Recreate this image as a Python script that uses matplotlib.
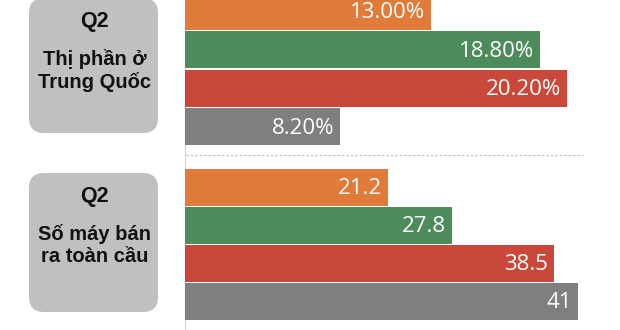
import matplotlib.pyplot as plt
from matplotlib.patches import FancyBboxPatch
from matplotlib.lines import Line2D

# Data: Q2 market share in China (%) and global shipments (million units)
share_values = [13.0, 18.8, 20.2, 8.2]
share_labels = ['13.00%', '18.80%', '20.20%', '8.20%']
ship_values = [21.2, 27.8, 38.5, 41]
ship_labels = ['21.2', '27.8', '38.5', '41']
bar_colors = ['#E07B39', '#4E8B5A', '#C9483A', '#7F7F7F']

box_titles = ['Q2', 'Q2']
box_lines = [['Thị phần ở', 'Trung Quốc'], ['Số máy bán', 'ra toàn cầu']]

W, H = 620, 330
fig = plt.figure(figsize=(W / 100, H / 100), dpi=100)

# background layer in pixel coordinates for boxes and guide lines
bg = fig.add_axes([0, 0, 1, 1], zorder=0)
bg.set_xlim(0, W)
bg.set_ylim(H, 0)
bg.axis('off')


def px_axes(top, bottom, left=185, right=W):
    return fig.add_axes([left / W, (H - bottom) / H, (right - left) / W, (bottom - top) / H], zorder=1)


def draw_group(ax, values, labels, px_per_unit):
    n = len(values)
    pos = range(n)
    ax.barh(pos, values, height=0.97, color=bar_colors)
    ax.set_ylim(n - 0.5, -0.5)
    ax.set_xlim(0, (W - 185) / px_per_unit)
    ax.axis('off')
    pad = 6 / px_per_unit
    for y, v, t in zip(pos, values, labels):
        ax.text(v - pad, y + 0.04, t, ha='right', va='center', color='white',
                fontsize=16, family='Open Sans')


ax_top = px_axes(-8, 146)
draw_group(ax_top, share_values, share_labels, 18.9)
ax_bot = px_axes(168, 320.5)
draw_group(ax_bot, ship_values, ship_labels, 9.59)

# vertical axis line and dotted separator
bg.add_line(Line2D([184.5, 184.5], [0, H], color='#D9D9D9', lw=1))
bg.add_line(Line2D([186, 583], [155, 155], color='#BBBBBB', lw=0.8, ls=(0, (2, 2))))

# rounded label boxes
boxes = [(-2, 133), (173, 312)]
for (top, bottom), title, lines in zip(boxes, box_titles, box_lines):
    r = 15
    bg.add_patch(FancyBboxPatch((29 + r, top + r), 129 - 2 * r, bottom - top - 2 * r,
                                boxstyle=f'round,pad={r}', fc='#C0C0C0', ec='none'))
    bg.text(94, top + 29, title, ha='center', va='baseline', fontsize=15.5,
            fontweight='bold', family='Liberation Sans', color='#111111')
    for i, line in enumerate(lines):
        bg.text(95, top + 67 + 22.5 * i, line, ha='center', va='baseline', fontsize=14.5,
                fontweight='bold', family='Liberation Sans', color='#111111')

fig.savefig('out.png', dpi=100)
